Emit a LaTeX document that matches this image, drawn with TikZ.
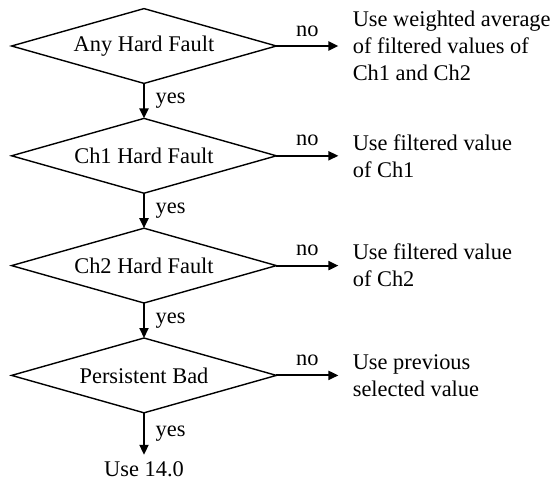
\documentclass[tikz,border=0pt]{standalone}
\usepackage{fontspec}
\setmainfont{Liberation Serif}
\usepackage{tikz}
\usetikzlibrary{arrows.meta,positioning}

\begin{document}
\begin{tikzpicture}[
  font=\fontsize{11.2}{13.5}\selectfont,
  node distance=17.5pt and 31pt,
  test/.style={minimum width=132pt,minimum height=37pt,inner sep=0pt},
  result/.style={align=left,inner xsep=7pt,inner ysep=0pt},
  arr/.style={-{Triangle[length=5pt,width=4.5pt]},line width=1pt},
  yeslbl/.style={midway,right,xshift=2pt},
  nolbl/.style={midway,above,yshift=1pt}
]
\useasboundingbox (0,0) rectangle (275pt,-241pt);
\node[test] (anyhf) at (72pt,-23pt) {Any Hard Fault};
\node[test,below=of anyhf] (ch1hf) {Ch1 Hard Fault};
\node[test,below=of ch1hf] (ch2hf) {Ch2 Hard Fault};
\node[test,below=of ch2hf] (pbad) {Persistent Bad};
% decision outlines
\foreach \n in {anyhf,ch1hf,ch2hf,pbad}
  \draw[line width=.7pt] (\n.west) -- (\n.north) -- (\n.east) -- (\n.south) -- cycle;
\node[result,right=of anyhf] (avg) {Use weighted average\\of filtered values of\\Ch1 and Ch2};
\node[result,right=of ch1hf] (useone) {Use filtered value\\of Ch1};
\node[result,right=of ch2hf] (usetwo) {Use filtered value\\of Ch2};
\node[result,right=of pbad] (prev) {Use previous\\selected value};
\node[below=21pt of pbad] (fixed) {Use 14.0};
\draw[arr] (anyhf.east) -- (avg.west) node[nolbl] {no};
\draw[arr] (ch1hf.east) -- (useone.west) node[nolbl] {no};
\draw[arr] (ch2hf.east) -- (usetwo.west) node[nolbl] {no};
\draw[arr] (pbad.east) -- (prev.west) node[nolbl] {no};
\draw[arr] (anyhf.south) -- (ch1hf.north) node[yeslbl] {yes};
\draw[arr] (ch1hf.south) -- (ch2hf.north) node[yeslbl] {yes};
\draw[arr] (ch2hf.south) -- (pbad.north) node[yeslbl] {yes};
\draw[arr] (pbad.south) -- (fixed.north) node[yeslbl] {yes};
\end{tikzpicture}
\end{document}
